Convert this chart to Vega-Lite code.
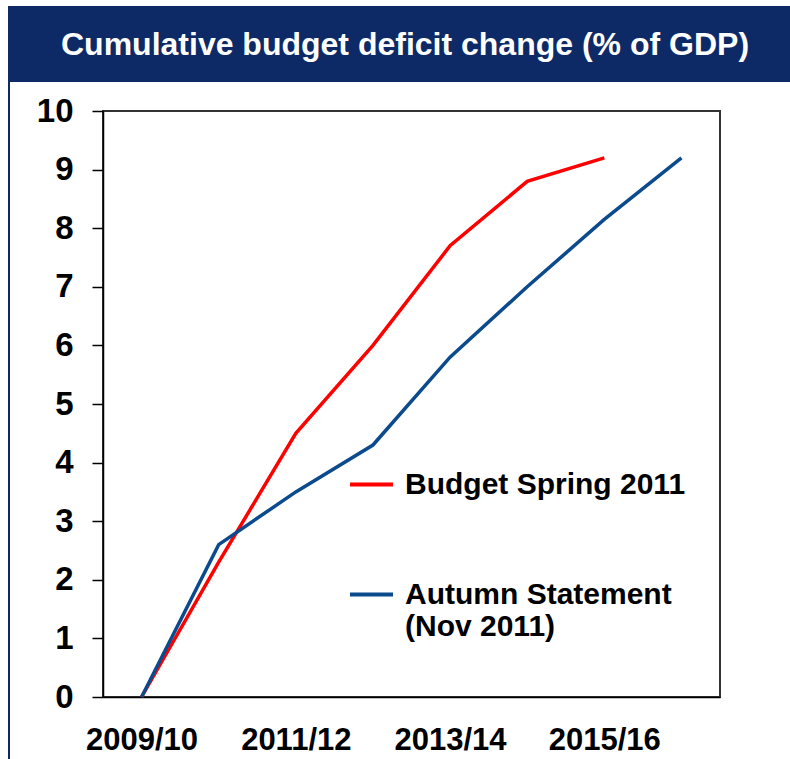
{
  "$schema": "https://vega.github.io/schema/vega-lite/v6.json",
  "padding": {"left": 8, "top": 6, "right": 0, "bottom": 0},
  "background": "white",
  "config": {"font": "Liberation Sans"},
  "spacing": 0,
  "hconcat": [
    {
      "width": 2,
      "height": 753,
      "view": {"fill": "#0e2a66", "stroke": null},
      "data": {"values": []},
      "mark": "rect",
      "encoding": {}
    },
    {
      "spacing": 0,
      "vconcat": [
        {
          "width": 780,
          "height": 76,
          "view": {"fill": "#0e2a66", "stroke": null},
          "data": {"values": [{"t": "Cumulative budget deficit change (% of GDP)"}]},
          "mark": {"type": "text", "color": "white", "font": "Liberation Sans", "fontWeight": "bold", "fontSize": 32, "dx": 5, "dy": 1},
          "encoding": {"text": {"field": "t"}}
        },
        {
          "spacing": 23,
          "hconcat": [
            {
              "width": 2,
              "height": 10,
              "view": {"fill": null, "stroke": null},
              "data": {"values": []},
              "mark": "rect",
              "encoding": {}
            },
            {
              "width": 617,
              "height": 586,
              "title": {"text": " ", "fontSize": 10, "offset": 2},
              "view": {"stroke": "#333333", "strokeWidth": 2},
              "data": {"values": [
                {"year": "2009/10", "series": "Budget Spring 2011", "value": 0},
                {"year": "2010/11", "series": "Budget Spring 2011", "value": 2.3},
                {"year": "2011/12", "series": "Budget Spring 2011", "value": 4.5},
                {"year": "2012/13", "series": "Budget Spring 2011", "value": 6.0},
                {"year": "2013/14", "series": "Budget Spring 2011", "value": 7.7},
                {"year": "2014/15", "series": "Budget Spring 2011", "value": 8.8},
                {"year": "2015/16", "series": "Budget Spring 2011", "value": 9.2},
                {"year": "2009/10", "series": "Autumn Statement (Nov 2011)", "value": 0},
                {"year": "2010/11", "series": "Autumn Statement (Nov 2011)", "value": 2.6},
                {"year": "2011/12", "series": "Autumn Statement (Nov 2011)", "value": 3.5},
                {"year": "2012/13", "series": "Autumn Statement (Nov 2011)", "value": 4.3},
                {"year": "2013/14", "series": "Autumn Statement (Nov 2011)", "value": 5.8},
                {"year": "2014/15", "series": "Autumn Statement (Nov 2011)", "value": 7.0},
                {"year": "2015/16", "series": "Autumn Statement (Nov 2011)", "value": 8.15},
                {"year": "2016/17", "series": "Autumn Statement (Nov 2011)", "value": 9.2}
              ]},
              "mark": {"type": "line", "strokeWidth": 3.5},
              "encoding": {
                "x": {
                  "field": "year", "type": "ordinal",
                  "scale": {"type": "point", "padding": 0.5, "domain": ["2009/10", "2010/11", "2011/12", "2012/13", "2013/14", "2014/15", "2015/16", "2016/17"]},
                  "axis": {"title": null, "values": ["2009/10", "2011/12", "2013/14", "2015/16"], "labelAngle": 0, "labelFontSize": 31, "labelFontWeight": "bold", "labelColor": "black", "ticks": false, "labelPadding": 28, "labelBaseline": "top", "domainColor": "black", "domainWidth": 1.5}
                },
                "y": {
                  "field": "value", "type": "quantitative",
                  "scale": {"domain": [0, 10], "nice": false},
                  "axis": {"title": null, "values": [0, 1, 2, 3, 4, 5, 6, 7, 8, 9, 10], "grid": false, "tickSize": 11, "tickColor": "black", "tickWidth": 1.5, "domainColor": "black", "domainWidth": 1.5, "labelFontSize": 33, "labelFontWeight": "bold", "labelColor": "black", "labelPadding": 19}
                },
                "color": {
                  "field": "series", "type": "nominal",
                  "scale": {"domain": ["Budget Spring 2011", "Autumn Statement (Nov 2011)"], "range": ["#ff0000", "#0b4a8c"]},
                  "legend": {"title": null, "orient": "none", "legendX": 340, "legendY": 455, "symbolType": "stroke", "symbolSize": 1849, "symbolStrokeWidth": 4, "labelFontSize": 30, "labelFontWeight": "bold", "labelColor": "black", "labelOffset": 10, "rowPadding": 71, "padding": 0, "labelLimit": 0,
                    "labelExpr": "datum.label == 'Budget Spring 2011' ? datum.label : ['Autumn Statement', '(Nov 2011)']"}
                }
              }
            }
          ]
        }
      ]
    }
  ]
}
